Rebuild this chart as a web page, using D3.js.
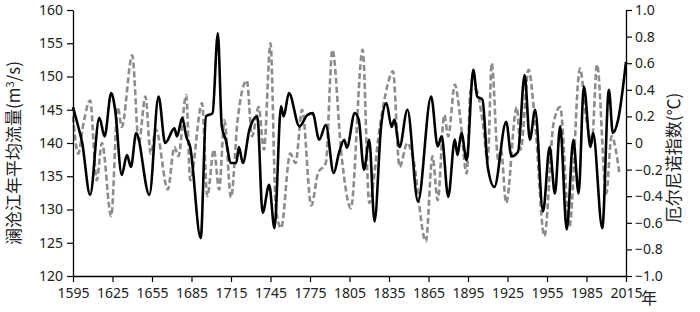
<!DOCTYPE html>
<html>
<head>
<meta charset="utf-8">
<script src="https://cdn.jsdelivr.net/npm/d3@7"></script>
<style>
  body { margin: 0; background: #fff; }
  svg text { font-family: "Noto Sans", "Noto Sans CJK SC", sans-serif; }
  .cjk { font-family: "Noto Sans CJK SC", sans-serif; }
</style>
</head>
<body>
<div id="chart"></div>
<script>
// runoff of the Lancang river (left axis)
const flowYears = [1595, 1598, 1602, 1608, 1615, 1619, 1624, 1627, 1632, 1636, 1639, 1643, 1653, 1660, 1665,
  1672, 1674, 1678, 1681, 1684, 1692, 1696, 1701, 1705, 1708, 1711, 1715, 1719, 1721, 1724, 1729, 1735,
  1739, 1744, 1748, 1753, 1755, 1759, 1767, 1773, 1777, 1782, 1787, 1793, 1797, 1801, 1803, 1809, 1812,
  1816, 1820, 1824, 1829, 1833, 1837, 1839, 1843, 1849, 1857, 1867, 1872, 1875, 1880, 1885, 1887, 1890,
  1894, 1899, 1902, 1906, 1910, 1915, 1924, 1928, 1933, 1938, 1942, 1946, 1952, 1957, 1961, 1965, 1970,
  1975, 1979, 1983, 1988, 1990, 1997, 2002, 2005, 2009, 2015];
const flowValues = [145.4, 143.2, 140, 132.2, 143.8, 141, 147.5, 145, 135.2, 138.2, 136.4, 141.5, 132.2, 147, 140,
  142.2, 141, 143.8, 141, 139.4, 125.7, 144, 144.5, 156.5, 142.5, 140.5, 137, 137, 139.4, 137, 142, 144,
  129.5, 133.7, 127.2, 145.5, 144, 147.5, 142.5, 144.2, 144.5, 140.5, 142.7, 135.5, 138.5, 140.5, 139.3, 144.5, 143.5,
  136, 140.5, 128.2, 142.5, 146, 142.4, 143.5, 139.4, 145, 131.2, 147, 139.5, 141, 131.9, 140.5, 138.2, 141.5,
  137.4, 151, 147, 146.5, 136.4, 133.4, 143.2, 138, 138.7, 150.2, 140.5, 145, 129.7, 139.4, 132.4, 142.5, 127,
  140.5, 132.4, 148.5, 139.4, 141.5, 127.2, 148, 141.5, 143.5, 152.2];

// El Nino index (right axis)
const ninoYears = [1595, 1599, 1603, 1608, 1613, 1617, 1624, 1629, 1632, 1640, 1645, 1650, 1654, 1658, 1667,
  1672, 1675, 1681, 1684, 1693, 1697, 1702, 1706, 1710, 1715, 1720, 1727, 1731, 1736, 1740, 1745, 1749,
  1753, 1760, 1764, 1769, 1776, 1781, 1787, 1792, 1799, 1806, 1815, 1820, 1828, 1834, 1838, 1843, 1849,
  1853, 1863, 1868, 1872, 1877, 1880, 1885, 1889, 1894, 1897, 1901, 1906, 1910, 1913, 1918, 1920, 1924,
  1932, 1935, 1941, 1946, 1953, 1960, 1965, 1972, 1980, 1985, 1989, 1993, 2000, 2004, 2010];
const ninoValues = [0.2, -0.08, 0.15, 0.32, -0.28, 0.0, -0.55, 0.27, 0.12, 0.66, 0.0, 0.35, -0.08, 0.1, -0.35,
  -0.03, -0.1, 0.36, -0.28, 0.3, -0.4, -0.05, -0.35, 0.17, -0.41, 0.17, 0.47, 0.05, 0.27, -0.05, 0.75, -0.48,
  -0.64, -0.08, -0.15, 0.25, -0.47, -0.23, -0.15, 0.7, -0.1, -0.49, 0.7, -0.45, 0.12, 0.44, 0.54, -0.18, 0.0,
  -0.1, -0.74, -0.1, -0.43, 0.21, 0.05, 0.44, 0.2, -0.23, 0.4, 0.4, 0.17, -0.13, 0.6, -0.13, -0.05, -0.45,
  0.27, -0.05, 0.55, 0.15, -0.7, 0.15, 0.27, -0.63, 0.56, 0.17, 0.0, 0.59, -0.38, 0.05, -0.23];

const xTicks = d3.range(1595, 2016, 30);
const leftTicks = d3.range(120, 161, 5);
const rightTicks = d3.range(-10, 11, 2).map(d => d / 10);

function drawGraph() {
  var width = 700, height = 312;
  var left = 73, right = 626, top = 10, bottom = 276;

  var svg = d3.select("#chart").append("svg")
      .attr("width", width)
      .attr("height", height);

  var x = d3.scaleLinear().domain([1595, 2015]).range([left, right]);
  var yL = d3.scaleLinear().domain([120, 160]).range([bottom, top]);
  var yR = d3.scaleLinear().domain([-1, 1]).range([bottom, top]);

  var flow = flowYears.map((yr, i) => ({ year: yr, value: flowValues[i] }));
  var nino = ninoYears.map((yr, i) => ({ year: yr, value: ninoValues[i] }));

  // dashed El Nino line first, runoff drawn on top
  svg.append("path")
      .datum(nino)
      .attr("fill", "none")
      .attr("stroke", "#8c8c8c")
      .attr("stroke-width", 2.6)
      .attr("stroke-dasharray", "6,3")
      .attr("d", d3.line().curve(d3.curveMonotoneX).x(d => x(d.year)).y(d => yR(d.value)));

  svg.append("path")
      .datum(flow)
      .attr("fill", "none")
      .attr("stroke", "#000")
      .attr("stroke-width", 2.6)
      .attr("d", d3.line().curve(d3.curveMonotoneX).x(d => x(d.year)).y(d => yL(d.value)));

  // axes
  var xAxis = svg.append("g")
      .attr("transform", `translate(0,${bottom})`)
      .call(d3.axisBottom(x).tickValues(xTicks).tickSize(6).tickSizeOuter(0).tickFormat(d3.format("d")));
  xAxis.selectAll("text").attr("font-size", "14px").attr("dy", "0.95em").attr("fill", "#222");

  var lAxis = svg.append("g")
      .attr("transform", `translate(${left},0)`)
      .call(d3.axisLeft(yL).tickValues(leftTicks).tickSize(6).tickSizeOuter(0));
  lAxis.selectAll("text").attr("font-size", "14px").attr("x", -10).attr("fill", "#222");

  var rAxis = svg.append("g")
      .attr("transform", `translate(${right},0)`)
      .call(d3.axisRight(yR).tickValues(rightTicks).tickSize(6).tickSizeOuter(0)
        .tickFormat(d => d === 0 ? "0" : d3.format(".1f")(d).replace("-", "\u2010")));
  rAxis.selectAll("text").attr("font-size", "14px").attr("x", 9).attr("fill", "#222");

  svg.selectAll(".domain").attr("stroke", "#000").attr("stroke-width", 1.3);
  svg.selectAll(".tick line").attr("stroke", "#000").attr("stroke-width", 1.2);

  svg.append("text")
      .attr("class", "cjk")
      .attr("x", right + 15)
      .attr("y", bottom + 28)
      .attr("font-size", "16px")
      .attr("fill", "#222")
      .text("年");

  svg.append("text")
      .attr("class", "cjk")
      .attr("transform", `translate(20,${(top + bottom) / 2 + 10}) rotate(-90)`)
      .attr("text-anchor", "middle")
      .attr("font-size", "17px")
      .attr("fill", "#222")
      .html("澜沧江年平均流量(m<tspan font-size='11px' dy='-6'>3</tspan><tspan dy='6'>/s)</tspan>");

  svg.append("text")
      .attr("class", "cjk")
      .attr("transform", `translate(680,${(top + bottom) / 2 + 15}) rotate(-90)`)
      .attr("text-anchor", "middle")
      .attr("font-size", "17px")
      .attr("fill", "#222")
      .text("厄尔尼诺指数(℃)");
}

window.onload = drawGraph;
</script>
</body>
</html>
